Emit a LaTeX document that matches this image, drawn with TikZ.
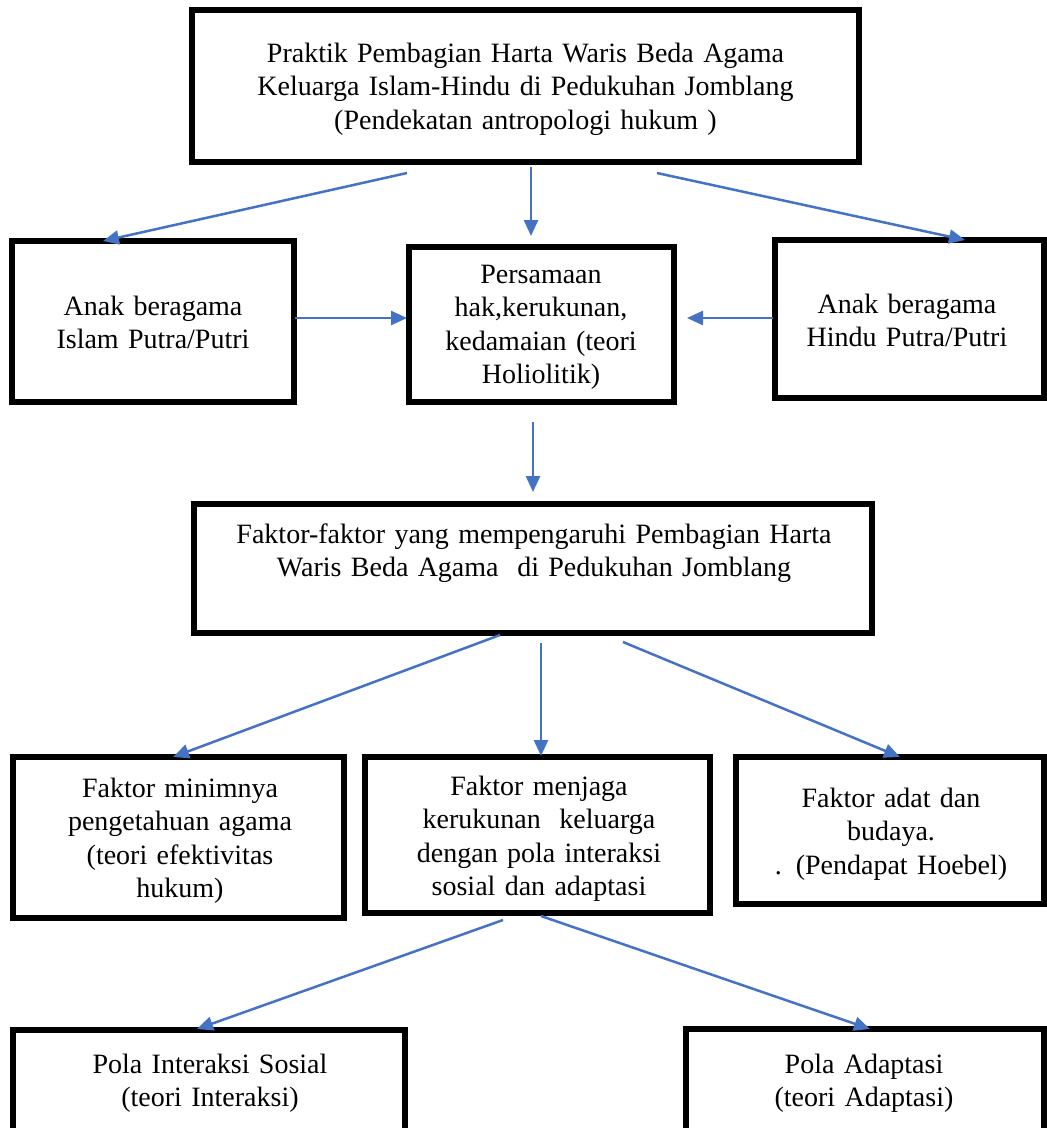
\documentclass[tikz,border=0pt]{standalone}
\usepackage{fontspec}
\setmainfont{Liberation Serif}
\usetikzlibrary{arrows.meta}
\definecolor{arrowblue}{HTML}{4472C4}
\begin{document}
\begin{tikzpicture}[x=1pt,y=-1pt,
  box/.style={draw=black,line width=6pt,rectangle,inner sep=0pt},
  txt/.style={align=center,inner sep=0pt,font=\fontsize{28}{33.5}\selectfont,anchor=base,text width=#1},
  txt/.default=330pt,
  conn/.style={draw=arrowblue,line width=2.5pt,-{Triangle[length=16pt,width=14pt]}}]
\useasboundingbox (0,0) rectangle (1047,1128);
\clip (0,0) rectangle (1047,1128);
% boxes
\node[box,minimum width=667pt,minimum height=152pt] (top) at (525.5,86) {};
\node[box,minimum width=282pt,minimum height=161pt] (isl) at (153,321.5) {};
\node[box,minimum width=265pt,minimum height=155pt] (per) at (541.5,324.5) {};
\node[box,minimum width=269pt,minimum height=158pt] (hin) at (909.5,319) {};
\node[box,minimum width=678pt,minimum height=129pt] (fak) at (533,568.5) {};
\node[box,minimum width=331pt,minimum height=161pt] (fa) at (178.5,837.5) {};
\node[box,minimum width=345pt,minimum height=156pt] (fb) at (537.5,835) {};
\node[box,minimum width=308pt,minimum height=147pt] (fc) at (890,830.5) {};
\node[box,minimum width=392pt,minimum height=110pt] (pa) at (209,1085) {};
\node[box,minimum width=358pt,minimum height=110pt] (pb) at (865,1084) {};
% texts
\node[txt=640pt] (toptx) at (525.5,62) {Praktik Pembagian Harta Waris Beda Agama\\Keluarga Islam-Hindu di Pedukuhan Jomblang\\(Pendekatan antropologi hukum )};
\node[txt=270pt] (isltx) at (153,315) {Anak beragama\\Islam Putra/Putri};
\node[txt=260pt] (pertx) at (541,283) {Persamaan\\hak,kerukunan,\\kedamaian (teori\\Holiolitik)};
\node[txt=260pt] (hintx) at (907,313) {Anak beragama\\Hindu Putra/Putri};
\node[txt=660pt] (faktx) at (534,543) {Faktor-faktor yang mempengaruhi Pembagian Harta\\Waris Beda Agama~ di Pedukuhan Jomblang};
\node[txt=320pt] (fatx) at (180,797) {Faktor minimnya\\pengetahuan agama\\(teori efektivitas\\hukum)};
\node[txt=335pt] (fbtx) at (539,795) {Faktor menjaga\\kerukunan~ keluarga\\dengan pola interaksi\\sosial dan adaptasi};
\node[txt=300pt] (fctx) at (891,807) {Faktor adat dan\\budaya.\\. (Pendapat Hoebel)};
\node[txt=380pt] (patx) at (210,1073) {Pola Interaksi Sosial\\(teori Interaksi)};
\node[txt=350pt] (pbtx) at (864,1073) {Pola Adaptasi\\(teori Adaptasi)};
% connector end points
\coordinate (s1) at (407,173);  \coordinate (e1) at (103,241);
\coordinate (s2) at (531,167);  \coordinate (e2) at (531,236);
\coordinate (s3) at (657,173);  \coordinate (e3) at (965,240);
\coordinate (s4) at (295,318);  \coordinate (e4) at (407,318);
\coordinate (s5) at (773,318);  \coordinate (e5) at (687,318);
\coordinate (s6) at (533,422);  \coordinate (e6) at (533,492);
\coordinate (s7) at (500,635);  \coordinate (e7) at (173,757);
\coordinate (s8) at (541,643);  \coordinate (e8) at (541,756);
\coordinate (s9) at (623,642);  \coordinate (e9) at (900,757);
\coordinate (s10) at (503,920); \coordinate (e10) at (197,1029);
\coordinate (s11) at (541,916); \coordinate (e11) at (870,1029);
% connectors
\foreach \i in {1,...,11} {\draw[conn] (s\i) -- (e\i);}
\end{tikzpicture}
\end{document}
